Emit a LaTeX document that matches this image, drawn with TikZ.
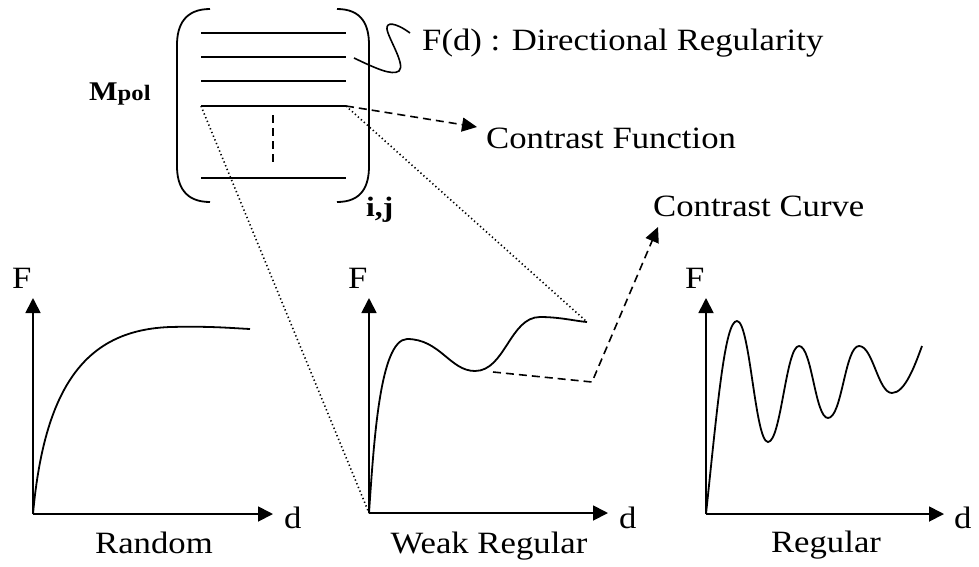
\documentclass[tikz,border=0pt]{standalone}
\usepackage{fontspec}
\setmainfont{Liberation Serif}[FakeStretch=1.12]
\usetikzlibrary{arrows.meta}
\tikzset{
  ln/.style={line width=1.8pt},
  axis/.style={line width=1.8pt,-{Triangle[length=15pt,width=15pt]}},
  curve/.style={line width=1.8pt},
  dsh/.style={line width=1.6pt,dash pattern=on 8pt off 5pt},
  dsharrow/.style={line width=1.6pt,dash pattern=on 8pt off 5pt,-{Triangle[length=15pt,width=14pt]}},
  dot/.style={line width=1.6pt,dash pattern=on 1.3pt off 2.7pt},
  lbl/.style={inner sep=0pt,font=\fontsize{31}{36}\selectfont},
}
\begin{document}
\begin{tikzpicture}[x=1pt,y=-1pt]
\useasboundingbox (0,0) rectangle (979,566);
% matrix brackets
\draw[ln] (210,9) .. controls (185,9) and (177,25) .. (177,45) -- (177,166) .. controls (177,186) and (185,202) .. (210,202);
\draw[ln] (337,9) .. controls (362,9) and (369,25) .. (369,45) -- (369,166) .. controls (369,186) and (362,202) .. (337,202);
% matrix rows
\coordinate (L1w) at (201,33); \coordinate (L1e) at (346,33);
\coordinate (L2w) at (201,57); \coordinate (L2e) at (346,57);
\coordinate (L3w) at (201,81); \coordinate (L3e) at (346,81);
\coordinate (L4w) at (201,106); \coordinate (L4e) at (346,106);
\coordinate (L5w) at (201,178); \coordinate (L5e) at (346,178);
\draw[ln] (L1w) -- (L1e);
\draw[ln] (L2w) -- (L2e);
\draw[ln] (L3w) -- (L3e);
\draw[ln] (L4w) -- (L4e);
\draw[ln] (L5w) -- (L5e);
\coordinate (vt) at (273,115); \coordinate (vb) at (273,164);
\draw[dsh] (vt) -- (vb);
% labels of matrix
\node[lbl,anchor=base west] (mpol) at (89,100) {\fontsize{27}{30}\selectfont\bfseries M\fontsize{22}{26}\selectfont pol};
\node[lbl,anchor=base west] (ij) at (366,216) {\fontsize{28}{32}\selectfont\bfseries i,j};
% squiggle to F(d)
\coordinate (sqs) at (354,58);
\node[lbl,anchor=base west] (fd) at (422,50) {F(d) : Directional Regularity};
\draw[curve,line width=1.6pt] (sqs) .. controls (375,68) and (392,76) .. (399,71) .. controls (406,65) and (388,38) .. (387,29) .. controls (386,22) and (395,22) .. (410,33);
% contrast function
\node[lbl,anchor=base west] (cf) at (486,148) {Contrast Function};
\coordinate (cftip) at (477,127);
\draw[dsharrow] (L4e) -- (cftip);
% graph 1 Random
\coordinate (O1) at (33,514); \coordinate (Y1) at (33,298); \coordinate (X1) at (273,514);
\draw[axis] (O1) -- (Y1);
\draw[axis] (O1) -- (X1);
\node[lbl,anchor=base west] (F1) at (12,288) {F};
\node[lbl,anchor=base west] (d1) at (284,528) {d};
\node[lbl,anchor=base] (r1) at (154,553) {Random};
\draw[curve] (O1) .. controls (45,380) and (90,330) .. (170,327) .. controls (210,326) and (230,328) .. (250,329);
% graph 2 Weak regular
\coordinate (O2) at (369,513); \coordinate (Y2) at (369,298); \coordinate (X2) at (608,513);
\draw[axis] (O2) -- (Y2);
\draw[axis] (O2) -- (X2);
\node[lbl,anchor=base west] (F2) at (348,288) {F};
\node[lbl,anchor=base west] (d2) at (619,528) {d};
\node[lbl,anchor=base] (r2) at (489,553) {Weak Regular};
\coordinate (WE) at (587,322);
\draw[curve] (O2) .. controls (374,440) and (380,340) .. (407,339) .. controls (440,339) and (450,371) .. (475,371) .. controls (505,371) and (510,317) .. (540,317) .. controls (560,317) and (575,321) .. (WE);
% dotted zoom lines
\draw[dot] (L4w) -- (O2);
\draw[dot] (L4e) -- (WE);
% contrast curve arrow
\coordinate (WT) at (493,372); \coordinate (bend) at (592,382); \coordinate (cctip) at (658,227);
\draw[dsharrow] (WT) -- (bend) -- (cctip);
\node[lbl,anchor=base west] (cc) at (653,216) {Contrast Curve};
% graph 3 Regular
\coordinate (O3) at (706,514); \coordinate (Y3) at (706,298); \coordinate (X3) at (944,514);
\draw[axis] (O3) -- (Y3);
\draw[axis] (O3) -- (X3);
\node[lbl,anchor=base west] (F3) at (685,288) {F};
\node[lbl,anchor=base west] (d3) at (954,528) {d};
\node[lbl,anchor=base] (r3) at (826,552) {Regular};
\draw[curve] (O3) .. controls (718,400) and (725,321) .. (737,321) .. controls (750,321) and (755,442) .. (768,442) .. controls (781,442) and (786,346) .. (799,346) .. controls (812,346) and (815,418) .. (828,418) .. controls (842,418) and (845,346) .. (859,346) .. controls (873,346) and (878,393) .. (892,393) .. controls (905,393) and (915,365) .. (922,346);
\end{tikzpicture}
\end{document}
